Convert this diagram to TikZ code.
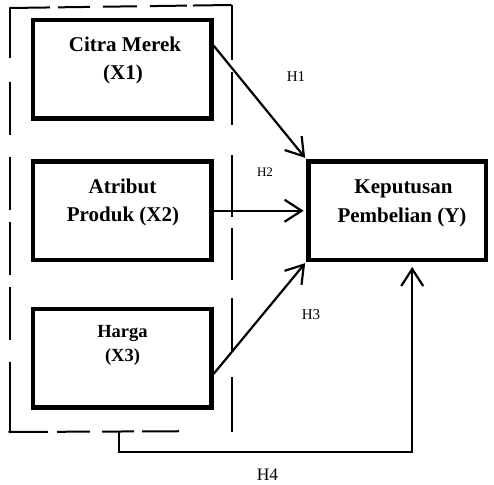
\documentclass[tikz,border=0pt]{standalone}
\usepackage{fontspec}
\setmainfont{Liberation Serif}
\usetikzlibrary{arrows.meta,calc}
\tikzset{
  varbox/.style={draw, line width=4.5pt, inner sep=0pt, minimum width=178.5pt, minimum height=98.5pt},
  boxtext/.style={font=\bfseries\fontsize{21}{25}\selectfont, anchor=base, inner sep=0pt},
  smallboxtext/.style={font=\bfseries\fontsize{18.5}{22}\selectfont, anchor=base, inner sep=0pt},
  hlabel/.style={inner sep=0pt, anchor=center},
  arr/.style={line width=2.2pt, -{Straight Barb[length=17pt,width=22pt,line width=2.2pt]}},
  conn/.style={line width=2.2pt},
  dashside/.style={line width=2pt, line cap=butt}
}
\begin{document}
\begin{tikzpicture}[x=1pt,y=-1pt]
\useasboundingbox (0,0) rectangle (494,484);
% variable boxes
\node[varbox] (x1) at (122.25,69.25) {};
\node[varbox] (x2) at (122.25,210.75) {};
\node[varbox] (x3) at (122.25,358.25) {};
\node[varbox, minimum width=177.7pt] (y) at (397.2,210.5) {};
% texts
\node[boxtext] (x1a) at (125,52) {Citra Merek};
\node[boxtext] (x1b) at (123,80) {(X1)};
\node[boxtext] (x2a) at (122.5,193) {Atribut};
\node[boxtext] (x2b) at (123,221) {Produk (X2)};
\node[smallboxtext] (x3a) at (122.5,337) {Harga};
\node[smallboxtext] (x3b) at (122.5,361) {(X3)};
\node[boxtext] (ya) at (403.5,193) {Keputusan};
\node[boxtext] (yb) at (402,222) {Pembelian (Y)};
% dashed group box
\coordinate (dtl) at (9.5,8);
\coordinate (dtr) at (231.5,5);
\coordinate (dbl) at (9.5,433);
\coordinate (dbr) at (231.5,432);
\draw[dashside, dash pattern=on 40.5pt off 8pt on 32pt off 13pt on 34pt off 13pt on 37pt off 6pt on 39pt off 100pt] (dtl) -- (dtr);
\draw[dashside, dash pattern=on 50pt off 24pt on 53pt off 22pt on 53pt off 12pt on 53pt off 12pt on 53pt off 22pt on 71pt off 100pt] (dtl) -- (dbl);
\draw[dashside, dash pattern=on 39.5pt off 9pt on 33pt off 12pt on 32pt off 8pt on 37pt off 200pt] ($(dbl)+(-1,-1)$) -- ($(dbr)+(0,-1)$);
\draw[dashside, dash pattern=on 55pt off 12pt on 53pt off 30pt on 62pt off 11pt on 52pt off 18pt on 54pt off 25pt on 55pt off 100pt] (dtr) -- (dbr);
% connectors
\draw[arr, shorten >=1.5pt] ([yshift=-28pt]x1.north east) -- (y.north west);
\draw[arr, shorten >=2.5pt] (x2.east) -- (x2.east -| y.west);
\draw[arr, shorten >=1.5pt] ([yshift=-67pt]x3.north east) -- (y.south west);
\coordinate (h4s) at (119,432);
\coordinate (h4b) at (119,452);
\draw[arr, shorten >=5pt] (h4s) -- (h4b) -| ([xshift=15pt]y.south);
% labels
\node[hlabel, font=\fontsize{15}{17}\selectfont] (h1) at (296,77) {H1};
\node[hlabel, font=\fontsize{13}{15}\selectfont] (h2) at (265,172.5) {H2};
\node[hlabel, font=\fontsize{15}{17}\selectfont] (h3) at (311,315) {H3};
\node[hlabel, font=\fontsize{17.5}{20}\selectfont] (h4) at (267.5,475) {H4};
\end{tikzpicture}
\end{document}
